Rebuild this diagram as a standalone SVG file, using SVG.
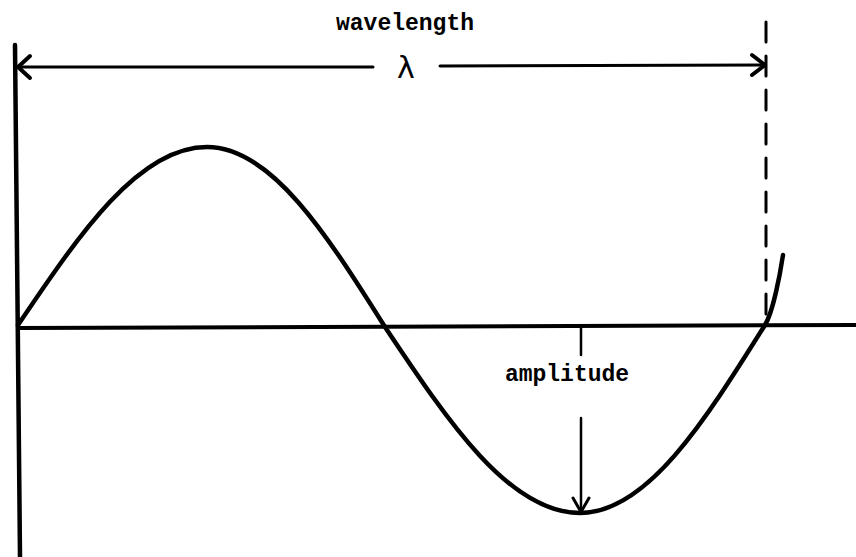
<svg xmlns="http://www.w3.org/2000/svg" width="856" height="557" viewBox="0 0 856 557">
<style>
.ln{fill:none;stroke:#000;stroke-linecap:round;stroke-linejoin:round}
.txt{font-family:"Liberation Mono","Courier New",monospace;font-weight:bold;font-size:23px;fill:#000}
</style>
<rect width="856" height="557" fill="#fff"/>
<g id="axes">
<path class="ln" d="M15,45 L20,557" stroke-width="4.5"/>
<path class="ln" d="M18,328 L856,325" stroke-width="4"/>
</g>
<g id="wave">
<path class="ln" stroke-width="4.5" d="M18,325 C79.6,233.8 138.6,147 207,147 C271.4,147 327,234.8 385,327 C448.6,422.3 509.4,513 580,513 C647,513 704.7,421.3 765,325 C773,312 780,275 783,255"/>
</g>
<g id="connectors">
<path class="ln" d="M766,22 L766,322" stroke-width="3" stroke-dasharray="20 14"/>
<path class="ln" d="M17,67 L373,67 M440,66 L765,65" stroke-width="3"/>
<path class="ln" d="M30,56 L18,67 L30,78" stroke-width="4"/>
<path class="ln" d="M752,55 L765,65 L752,75" stroke-width="4"/>
<path class="ln" d="M581,327 L581,355 M581,418 L581,512" stroke-width="2.5"/>
<path class="ln" d="M573,498 L581,512 L589,498" stroke-width="3"/>
</g>
<g id="labels">
<text class="txt" x="405" y="30" text-anchor="middle">wavelength</text>
<text x="406" y="78" text-anchor="middle" font-family="DejaVu Sans, sans-serif" font-size="30">λ</text>
<text class="txt" x="567" y="381" text-anchor="middle">amplitude</text>
</g>
</svg>
